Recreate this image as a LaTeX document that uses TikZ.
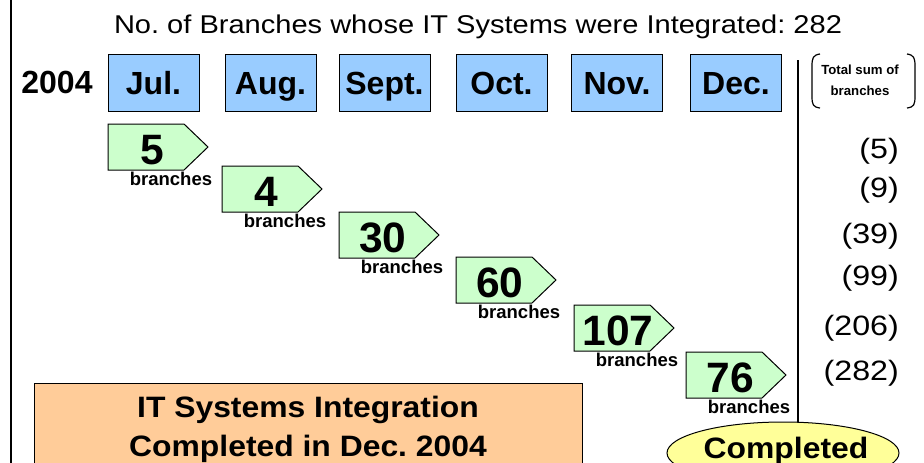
\documentclass[tikz,border=0pt]{standalone}
\usepackage{fontspec}
\setmainfont{Liberation Sans}
\newfontfamily\widesans[FakeStretch=1.13]{Liberation Sans}
\newfontfamily\widersans[FakeStretch=1.15]{Liberation Sans}
\newfontfamily\broadsans[FakeStretch=1.08]{Liberation Sans}
\usetikzlibrary{shapes.geometric}
\frenchspacing
\begin{document}
\begin{tikzpicture}[x=1pt,y=-1pt,
  month/.style={draw=black,line width=1pt,fill=monthblue,minimum width=91pt,minimum height=57pt,inner sep=0pt},
  monthtxt/.style={anchor=base,font=\fontsize{32}{36}\selectfont\bfseries},
  tag/.style={draw=black,line width=1pt,fill=taggreen},
  tagnum/.style={anchor=base,font=\fontsize{42.5}{46}\selectfont\bfseries},
  tagunit/.style={anchor=base,font=\fontsize{18.5}{20}\selectfont\bfseries},
  total/.style={anchor=base east,inner sep=0pt,font=\widersans\fontsize{28}{32}\selectfont},
  boxtxt/.style={anchor=base,font=\broadsans\fontsize{29.5}{32}\selectfont\bfseries},
  rule/.style={line width=1.2pt}]
\definecolor{monthblue}{HTML}{99CCFF}
\definecolor{taggreen}{HTML}{CCFFCC}
\definecolor{boxorange}{HTML}{FFCC99}
\definecolor{doneyellow}{HTML}{FFFF99}
\useasboundingbox (0,0) rectangle (924,463);
\clip (0,0) rectangle (924,463);

% frame line on the left
\coordinate (lt) at (11,0);
\coordinate (lb) at (11,463);
\draw[rule] (lt) -- (lb);

% heading
\node[anchor=base,font=\widesans\fontsize{25.7}{28}\selectfont] (title) at (478,33)
  {No. of Branches whose IT Systems were Integrated: 282};

% year and months
\node[anchor=base,font=\fontsize{32}{36}\selectfont\bfseries] (year) at (57,93) {2004};
\foreach \n/\cx/\lbl in {jul/153.5/Jul., aug/270.5/Aug., sep/384.5/Sept.,
                         oct/501.5/Oct., nov/617/Nov., dec/736/Dec.}{
  \node[month] (\n) at (\cx,82.5) {};
  \node[monthtxt] (\n t) at (\cx,94) {\lbl};
}

% separator between months and running totals
\coordinate (sepTop) at (798,60);
\coordinate (sepBot) at (798,422);
\draw[rule] (sepTop) -- (sepBot);

% header of the totals column, in round brackets
\node[align=center,font=\fontsize{13.2}{21}\selectfont\bfseries] (sumhead) at (860,80)
  {Total sum of\\branches};
\draw[line width=1.2pt] (820,54) .. controls (813,55) and (812,58) .. (812,66)
  -- (812,96) .. controls (812,105) and (813,107) .. (820,108);
\draw[line width=1.2pt] (907,54) .. controls (914,55) and (915,58) .. (915,66)
  -- (915,96) .. controls (915,105) and (914,107) .. (907,108);

% monthly counts as arrow tags
\foreach \n/\lx/\ty/\num in {a/108/124/5, b/222/166/4, c/339/212/30,
                            d/456/257/60, e/574/305/107, f/686/352/76}{
  \draw[tag] (\lx,\ty) -- ++(76,0) -- ++(24,23) -- ++(-24,23) -- ++(-76,0) -- cycle;
  \node[tagnum] (num\n) at (\lx+44,\ty+40) {\num};
  \node[tagunit] (unit\n) at (\lx+63,\ty+61) {branches};
}

% running totals
\foreach \n/\by/\val in {a/158/5, b/197/9, c/243/39, d/285/99, e/335/206, f/380/282}{
  \node[total] (tot\n) at (899,\by) {(\val)};
}

% summary box
\node[draw=black,line width=1pt,fill=boxorange,minimum width=548pt,minimum height=100pt,
      anchor=north west,inner sep=0pt] (summary) at (34,383) {};
\node[boxtxt] (sumA) at (308,417) {IT Systems Integration};
\node[boxtxt] (sumB) at (308,456) {Completed in Dec. 2004};

% completion badge
\node[draw=black,line width=1pt,fill=doneyellow,ellipse,minimum width=232pt,
      minimum height=62pt,inner sep=0pt] (done) at (783,453) {};
\node[boxtxt] (donet) at (786,458) {Completed};
\end{tikzpicture}
\end{document}
